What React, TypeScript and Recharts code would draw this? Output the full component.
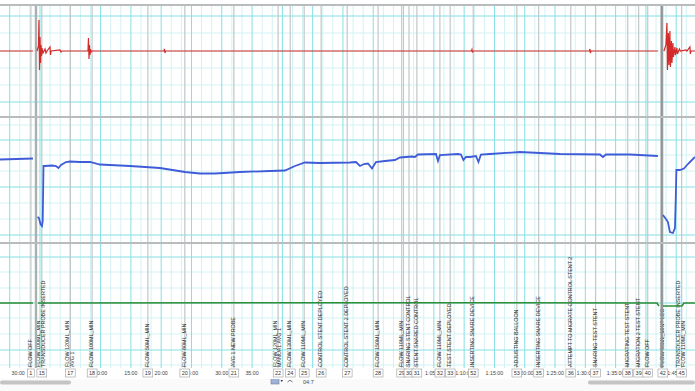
import React from "react";
import { LineChart, Line, XAxis, YAxis, ReferenceLine } from "recharts";

const W = 695;
const T_MIN = -6.6;
const T_MAX = 108.1;
const FONT = "'Liberation Sans', Arial, sans-serif";

// bottom time axis (minutes) – only labels not hidden behind comment boxes
const tickTimes = [-3.6, 10, 15, 20, 25, 30, 35, 65, 70, 75, 80, 85, 90, 95, 105];
const tickLabels = ["30:00", "10:00", "15:00", "20:00", "25:00", "30:00", "35:00", "1:05:00", "1:10:00", "1:15:00", "1:20:00", "1:25:00", "1:30:00", "1:35:00", "1:45:00"];

// recording breaks (minutes)
const breakTimes = [-0.66, 102.6];

// comments / events
const eventTimes = [-1.5, 0.3, 5.0, 8.6, 17.8, 23.9, 32.0, 39.3, 41.3, 43.6, 46.4, 50.7, 55.8, 59.7, 60.9, 62.2, 66.0, 67.7, 71.5, 78.7, 82.3, 87.6, 91.7, 97.0, 98.8, 100.3, 102.8, 105.9];
const eventNumbers = ["1", "15", "17", "18", "19", "20", "21", "22", "24", "25", "26", "27", "28", "29", "30", "31", "32", "33", "52", "53", "35", "36", "37", "38", "39", "40", "42", "45"];
const eventLabels: string[][] = [
  ["FLOW OFF"],
  ["FLOW 100ML_MIN", "TRANSDUCER PROBE INSERTED"],
  ["FLOW 120ML_MIN", "AVG 1"],
  ["FLOW 100ML_MIN"],
  ["FLOW 50ML_MIN"],
  ["FLOW 80ML_MIN"],
  ["AVG 1 NEW PROBE"],
  ["FLOW 120ML_MIN", "MANUAL AVG 1"],
  ["FLOW 130ML_MIN"],
  ["FLOW 110ML_MIN"],
  ["CONTROL STENT DEPLOYED"],
  ["CONTROL STENT 2 DEPLOYED"],
  ["FLOW 150ML_MIN"],
  ["FLOW 110ML_MIN"],
  ["SNARING STENT CONTROL"],
  ["STENT SNARED CONTROL"],
  ["FLOW 110ML_MIN"],
  ["TEST STENT DEPLOYED"],
  ["INSERTING SNARE DEVICE"],
  ["ADJUSTING BALLOON"],
  ["INSERTING SNARE DEVICE"],
  ["ATTEMPT TO MIGRATE CONTROL STENT 2"],
  ["SNARING TEST STENT"],
  ["MIGRATING TEST STENT"],
  ["MIGRATION 2 TEST STENT"],
  ["FLOW OFF"],
  ["FLOW 90ML_MIN? LEC"],
  ["TRANSDUCER PROBE INSERTED", "FLOW 110ML_MIN"],
];

// channel 1 (red)
const redTrace: [number, number | null][] = [
  [-6.6, 0], [-1.16, 0], [-0.9, null], [-0.5, 0], [-0.25, 5], [-0.17, 31], [-0.08, -19], [0.0, 14], [0.08, -12],
  [0.17, 6], [0.25, -5], [0.33, 3], [0.5, -2], [0.66, 0], [0.83, 2], [0.99, -2], [1.16, 0], [1.65, 4], [1.73, -4],
  [1.82, 0], [3.3, 1], [3.47, -1], [3.63, 0], [7.92, 0], [8.0, 13], [8.09, -8], [8.17, 6], [8.25, -4], [8.33, 2],
  [8.42, -1], [8.58, 0], [20.46, 0], [20.54, 2], [20.63, -2], [20.71, 0], [71.2, 0], [71.29, 1.5], [71.37, -1.5],
  [71.45, 0], [90.68, 0], [90.76, 2], [90.84, -2], [90.92, 0], [101.98, 0], [102.5, null], [102.97, 0], [103.3, 6],
  [103.47, 28], [103.55, -19], [103.71, 18], [103.8, -14], [103.96, 20], [104.04, -16], [104.21, 10], [104.29, -12],
  [104.46, 8], [104.54, -6], [104.79, 4], [104.87, -4], [105.12, 3], [105.2, -3], [105.53, 2], [105.69, 0],
  [106.6, 1], [106.77, 0], [107.26, 4], [107.34, -3], [107.43, 0], [108.09, 0],
];

// channel 2 (blue)
const blueTrace: [number, number | null][] = [
  [-6.6, 83.5], [-1.16, 84.5], [-0.9, null], [-0.41, 26], [-0.17, 25], [0.08, 19], [0.33, 17], [0.45, 22], [0.58, 77],
  [0.83, 77], [1.98, 77.5], [2.64, 77], [3.05, 75], [3.47, 78], [4.29, 81], [4.95, 81.5], [6.6, 81], [8.25, 81],
  [9.9, 78.5], [14.85, 77], [19.8, 75], [23.93, 71], [26.4, 69.5], [28.88, 69.5], [33.0, 71], [37.95, 72],
  [40.43, 72.5], [42.08, 77], [43.73, 80.5], [46.2, 80], [51.16, 80.5], [52.15, 81], [52.81, 77], [53.47, 79],
  [54.13, 79.5], [54.79, 74.5], [55.45, 81], [56.93, 82], [58.58, 83], [59.41, 85.5], [61.39, 86.5], [61.88, 86],
  [62.38, 88.5], [65.35, 89], [65.68, 82], [66.01, 88], [68.98, 89], [69.47, 88.5], [69.88, 83], [70.3, 86],
  [70.96, 86], [71.95, 87], [72.36, 81], [72.77, 88.5], [74.26, 89], [79.21, 91], [82.51, 90], [85.81, 89],
  [92.41, 88.5], [92.9, 86], [93.4, 88.5], [97.36, 88.5], [101.98, 87], [102.5, null], [102.81, 28], [103.3, 24],
  [103.63, 21], [103.96, 11], [104.46, 10], [104.79, 15], [104.92, 43], [105.03, 73], [105.61, 73], [106.27, 74.5],
  [106.93, 79], [108.09, 86],
];

// channel 3 (green)
const greenTrace: [number, number | null][] = [
  [-6.6, 0], [-1.16, 0], [-0.9, null], [-0.33, 0], [45.4, 0.3], [101.82, 0], [102.15, -3], [102.5, null],
  [102.81, -3], [105.94, -3], [106.27, 0], [108.09, 0],
];

// horizontal grid values per channel
const redGridMajor = [35, -51];
const redGridMinor = [18, 0, -17, -34];
const blueGridMajor = [103, 56, 8];
const blueGridMinor = [118, 88, 72, 40, 24];
const greenGridMajor = [46, 0, -47];
const greenGridMinor = [31, 15, -15, -31, -62];

const toData = (tr: [number, number | null][]) => tr.map(([t, v]) => ({ t, v }));

const minorV: number[] = [];
const majorV: number[] = [];
for (let k = -3; k <= 65; k++) {
  const t = (k * 5) / 3;
  if (k % 3 === 0) majorV.push(t);
  else minorV.push(t);
}

const MAJOR = "#84e0e4";
const MINOR = "#d3f2f3";
const EVENT = "#c3c7c7";

const EventLabel = (props: any) => {
  const { viewBox, lines } = props;
  if (!viewBox) return null;
  const vx = viewBox.x;
  const bottom = viewBox.y + viewBox.height - 1;
  const n = lines.length;
  return (
    <g>
      {lines.map((s: string, i: number) => {
        const cx = vx - 1 + (i - (n - 1) / 2) * 4.7;
        const bx = cx + 1.9;
        return (
          <text
            key={i}
            transform={`translate(${bx},${bottom}) rotate(-90)`}
            fontSize={5.4}
            fill="#2e2e2e"
            fontFamily={FONT}
          >
            {s}
          </text>
        );
      })}
    </g>
  );
};

const EventBox = (props: any) => {
  const { viewBox, num } = props;
  if (!viewBox) return null;
  const w = num.length * 3.1 + 3.6;
  const x = viewBox.x;
  return (
    <g>
      <rect x={x - w / 2} y={viewBox.y + 1} width={w} height={8} fill="#fff" stroke="#9c9c9c" strokeWidth={0.6} />
      <text x={x} y={viewBox.y + 7.2} textAnchor="middle" fontSize={5.5} fill="#333" fontFamily={FONT}>
        {num}
      </text>
    </g>
  );
};

const TimeTick = (props: any) => {
  const { x, y, payload } = props;
  const idx = tickTimes.indexOf(payload.value);
  return (
    <text x={x} y={y + 7.2} textAnchor="middle" fontSize={5.3} fill="#444" fontFamily={FONT}>
      {idx >= 0 ? tickLabels[idx] : ""}
    </text>
  );
};

type PanelProps = {
  trace: [number, number | null][];
  color: string;
  width: number;
  domain: [number, number];
  gridMajor: number[];
  gridMinor: number[];
  height: number;
  axis?: boolean;
  labels?: boolean;
};

const Panel = ({ trace, color, width, domain, gridMajor, gridMinor, height, axis, labels }: PanelProps) => (
  <LineChart width={W} height={height} data={toData(trace)} margin={{ top: 0, right: 0, bottom: 0, left: 0 }}>
    <XAxis
      type="number"
      dataKey="t"
      domain={[T_MIN, T_MAX]}
      allowDataOverflow
      hide={!axis}
      height={11}
      ticks={tickTimes}
      interval={0}
      tick={(p: any) => <TimeTick {...p} />}
      tickLine={false}
      axisLine={false}
      tickSize={0}
      tickMargin={0}
    />
    <YAxis type="number" domain={domain} allowDataOverflow hide />
    {minorV.map((t) => (
      <ReferenceLine key={"mv" + t} x={t} stroke={MINOR} strokeWidth={1} />
    ))}
    {gridMinor.map((v) => (
      <ReferenceLine key={"mh" + v} y={v} stroke={MINOR} strokeWidth={1} />
    ))}
    {majorV.map((t) => (
      <ReferenceLine key={"Mv" + t} x={t} stroke={MAJOR} strokeWidth={1} />
    ))}
    {gridMajor.map((v) => (
      <ReferenceLine key={"Mh" + v} y={v} stroke={MAJOR} strokeWidth={1} />
    ))}
    {eventTimes.map((t, i) => (
      <ReferenceLine
        key={"ev" + i}
        x={t}
        stroke={EVENT}
        strokeWidth={1.2}
        label={labels ? <EventLabel lines={eventLabels[i]} /> : undefined}
      />
    ))}
    {breakTimes.map((t, i) => (
      <ReferenceLine key={"br" + i} x={t} stroke={i === 0 ? "#a9b0b0" : "#8f9696"} strokeWidth={2.4} />
    ))}
    <Line
      type="linear"
      dataKey="v"
      stroke={color}
      strokeWidth={width}
      dot={false}
      activeDot={false}
      connectNulls={false}
      isAnimationActive={false}
    />
  </LineChart>
);

const BoxRow = () => (
  <LineChart width={W} height={11} data={[]} margin={{ top: 0, right: 0, bottom: 0, left: 0 }}>
    <XAxis type="number" dataKey="t" domain={[T_MIN, T_MAX]} allowDataOverflow hide />
    <YAxis type="number" domain={[0, 1]} allowDataOverflow hide />
    {eventTimes.map((t, i) => (
      <ReferenceLine key={"bx" + i} x={t} stroke="none" label={<EventBox num={eventNumbers[i]} />} />
    ))}
  </LineChart>
);

const abs = (top: number): React.CSSProperties => ({ position: "absolute", left: 0, top });

export default function App() {
  return (
    <div style={{ position: "absolute", left: 0, top: 0, width: W, height: 391, background: "#fff", overflow: "hidden", fontFamily: FONT }}>
      <div style={abs(5)}>
        <Panel trace={redTrace} color="#d42a2a" width={1.2} domain={[-66, 46]} gridMajor={redGridMajor} gridMinor={redGridMinor} height={112} />
      </div>
      <div style={abs(117)}>
        <Panel trace={blueTrace} color="#3f5cd8" width={1.8} domain={[0, 126]} gridMajor={blueGridMajor} gridMinor={blueGridMinor} height={126} />
      </div>
      <div style={abs(243)}>
        <Panel trace={greenTrace} color="#2f8c37" width={1.5} domain={[-65, 60]} gridMajor={greenGridMajor} gridMinor={greenGridMinor} height={136} axis labels />
      </div>
      <div style={abs(368)}>
        <BoxRow />
      </div>
      <div style={{ position: "absolute", left: 0, top: 4, width: W, height: 2, background: "#b9bcbc" }} />
      <div style={{ position: "absolute", left: 0, top: 116, width: W, height: 2, background: "#b9bcbc" }} />
      <div style={{ position: "absolute", left: 0, top: 242, width: W, height: 2, background: "#b9bcbc" }} />
      <svg style={{ position: "absolute", left: 0, top: 379 }} width={W} height={12}>
        <rect x={0} y={0} width={W} height={12} fill="#fafafa" />
        <rect x={0} y={1.5} width={71} height={4} rx={2} fill="#c4c4c4" />
        <rect x={588} y={1.5} width={107} height={4} rx={2} fill="#c4c4c4" />
        <rect x={271} y={-1} width={8} height={6} fill="#9fb2d6" stroke="#6f7f9f" strokeWidth={0.6} />
        <path d="M280.5 1 L283 1 L281.75 3 Z" fill="#333" />
        <path d="M287.5 3 L290 1.2 L292.5 3" fill="none" stroke="#555" strokeWidth={0.8} />
        <text x={303} y={4.5} fontSize={5.5} fill="#444" fontFamily={FONT}>04:7</text>
      </svg>
    </div>
  );
}
